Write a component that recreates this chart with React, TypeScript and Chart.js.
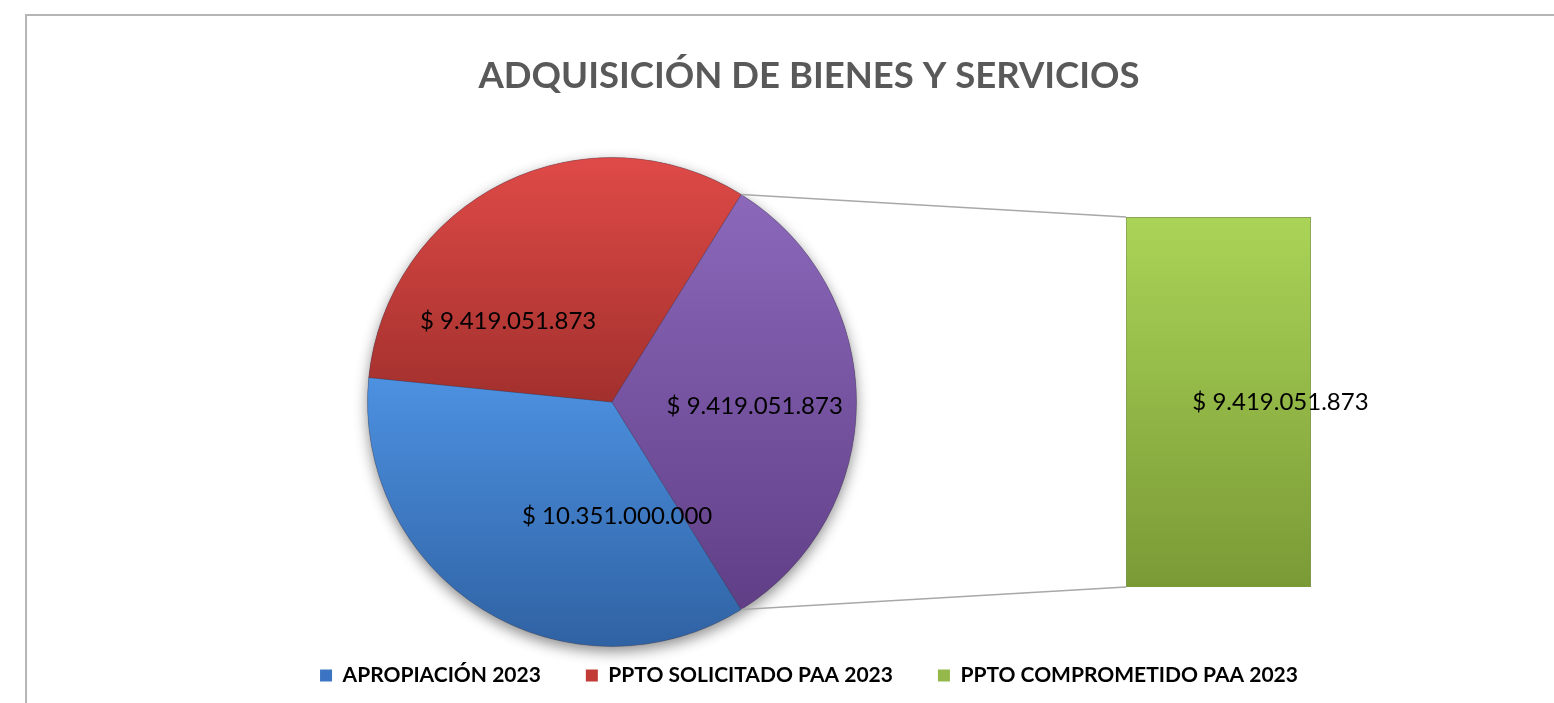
import React, { useEffect, useRef } from 'react';
import { Chart, registerables } from 'chart.js';

Chart.register(...registerables);

// ---------------- data ----------------
const TITLE = 'ADQUISICIÓN DE BIENES Y SERVICIOS';
const CATEGORIES = ['APROPIACIÓN 2023', 'PPTO SOLICITADO PAA 2023', 'PPTO COMPROMETIDO PAA 2023'];
const VALUES = [10351000000, 9419051873, 9419051873];
const SECOND_PLOT_COUNT = 1; // last N categories go to the bar (bar of pie)

const sum = (a: number[]) => a.reduce((s, v) => s + v, 0);
const PIE_LABELS = [...CATEGORIES.slice(0, CATEGORIES.length - SECOND_PLOT_COUNT), 'Otro'];
const PIE_VALUES = [...VALUES.slice(0, VALUES.length - SECOND_PLOT_COUNT), sum(VALUES.slice(-SECOND_PLOT_COUNT))];
const BAR_LABELS = CATEGORIES.slice(-SECOND_PLOT_COUNT);
const BAR_VALUES = VALUES.slice(-SECOND_PLOT_COUNT);

// ---------------- styles / layout ----------------
const W = 1554;
const H = 703;
const FONT = 'Lato, "Open Sans", "DejaVu Sans", sans-serif';
const PIE_CX = 612;
const PIE_TOP = 157;
const PIE_SIZE = 490;
const BAR_BOX = { left: 1126, right: 1311, top: 217, bottom: 587 };
const PIE_COLORS: [string, string][] = [
  ['#4d91e1', '#2f62a3'],
  ['#df4a47', '#a2302d'],
  ['#8b68ba', '#613f87'],
];
const BAR_COLORS: [string, string] = ['#aad457', '#7a9a36'];
const LEGEND_COLORS = ['#3b74c2', '#c23b37', '#94b94a'];
// label placement: shift (deg) from slice mid-angle and radius fraction
const PIE_LABEL_PLACE = [
  { shift: -34.5, r: 0.466 },
  { shift: -26, r: 0.538 },
  { shift: 1.6, r: 0.584 },
];
const BAR_LABEL_SHIFT = 62;

const TOTAL = sum(PIE_VALUES);
const OTHER_SPAN = (PIE_VALUES[PIE_VALUES.length - 1] / TOTAL) * 360;
const ROTATION = 90 + OTHER_SPAN / 2; // "other" slice faces the bar

const fmt = (v: number) => '$ ' + String(v).replace(/\B(?=(\d{3})+(?!\d))/g, '.');

function sliceGradient(c: any) {
  const chart = c.chart;
  const area = chart.chartArea;
  const i = c.dataIndex ?? 0;
  const [top, bot] = PIE_COLORS[i];
  if (!area) return top;
  const cx = (area.left + area.right) / 2;
  const cy = (area.top + area.bottom) / 2;
  const R = Math.min(area.right - area.left, area.bottom - area.top) / 2;
  let a0 = ((ROTATION - 90) * Math.PI) / 180;
  for (let j = 0; j < i; j++) a0 += (PIE_VALUES[j] / TOTAL) * 2 * Math.PI;
  const a1 = a0 + (PIE_VALUES[i] / TOTAL) * 2 * Math.PI;
  const ys = [cy, cy + R * Math.sin(a0), cy + R * Math.sin(a1)];
  for (let k = Math.ceil(a0 / (Math.PI / 2)); (k * Math.PI) / 2 < a1; k++) ys.push(cy + R * Math.sin((k * Math.PI) / 2));
  const y0 = Math.min(...ys);
  const y1 = Math.max(...ys);
  const g = chart.ctx.createLinearGradient(0, y0, 0, y1 + 0.01);
  g.addColorStop(0, top);
  g.addColorStop(1, bot);
  return g;
}

export default function App() {
  const frameRef = useRef<HTMLCanvasElement>(null);
  const pieRef = useRef<HTMLCanvasElement>(null);
  const barRef = useRef<HTMLCanvasElement>(null);

  useEffect(() => {
    if (!frameRef.current || !pieRef.current || !barRef.current) return;

    const barChart = new Chart(barRef.current, {
      type: 'bar',
      data: {
        labels: BAR_LABELS,
        datasets: [
          {
            data: BAR_VALUES,
            backgroundColor: (c: any) => {
              const area = c.chart.chartArea;
              if (!area) return BAR_COLORS[0];
              const g = c.chart.ctx.createLinearGradient(0, area.top, 0, area.bottom);
              g.addColorStop(0, BAR_COLORS[0]);
              g.addColorStop(1, BAR_COLORS[1]);
              return g;
            },
            borderColor: 'rgba(95,125,40,0.8)',
            borderWidth: 1,
            barPercentage: 1,
            categoryPercentage: 1,
          },
        ],
      },
      options: {
        responsive: false,
        animation: false,
        layout: {
          padding: { left: BAR_BOX.left, right: W - BAR_BOX.right, top: BAR_BOX.top, bottom: H - BAR_BOX.bottom },
        },
        scales: {
          x: { display: false, stacked: true },
          y: { display: false, stacked: true, min: 0, max: sum(BAR_VALUES) },
        },
        plugins: { legend: { display: false }, tooltip: { enabled: false }, title: { display: false } },
      },
      plugins: [
        {
          id: 'barLabel',
          afterDatasetsDraw(chart: any) {
            const ctx = chart.ctx;
            const meta = chart.getDatasetMeta(0);
            ctx.save();
            ctx.font = `24px ${FONT}`;
            ctx.fillStyle = '#000';
            ctx.textAlign = 'center';
            ctx.textBaseline = 'middle';
            meta.data.forEach((el: any, i: number) => {
              const p = el.getProps(['x', 'y', 'base'], true);
              ctx.fillText(fmt(BAR_VALUES[i]), p.x + BAR_LABEL_SHIFT, (p.y + p.base) / 2);
            });
            ctx.restore();
          },
        },
      ],
    } as any);

    const pieChart = new Chart(pieRef.current, {
      type: 'pie',
      data: {
        labels: PIE_LABELS,
        datasets: [
          {
            data: PIE_VALUES,
            backgroundColor: sliceGradient,
            borderColor: 'rgba(40,30,60,0.25)',
            borderWidth: 1,
          },
        ],
      },
      options: {
        responsive: false,
        animation: false,
        rotation: ROTATION,
        layout: {
          padding: { left: 0, right: W - 2 * PIE_CX, top: PIE_TOP, bottom: H - PIE_TOP - PIE_SIZE },
        },
        plugins: { legend: { display: false }, tooltip: { enabled: false }, title: { display: false } },
      },
      plugins: [
        {
          id: 'pieExtras',
          beforeDatasetsDraw(chart: any) {
            const el = chart.getDatasetMeta(0).data[0];
            if (!el) return;
            const ctx = chart.ctx;
            ctx.save();
            ctx.shadowColor = 'rgba(0,0,0,0.45)';
            ctx.shadowBlur = 14;
            ctx.shadowOffsetY = 5;
            ctx.beginPath();
            ctx.arc(el.x, el.y, el.outerRadius, 0, Math.PI * 2);
            ctx.fillStyle = '#777';
            ctx.fill();
            ctx.restore();
          },
          afterDatasetsDraw(chart: any) {
            const ctx = chart.ctx;
            const arcs = chart.getDatasetMeta(0).data;
            // connector lines from the "other" slice to the bar
            const other = arcs[arcs.length - 1];
            const bar = barChart.getDatasetMeta(0).data[0] as any;
            if (other && bar) {
              const bp = bar.getProps(['x', 'y', 'base', 'width'], true);
              const left = bp.x - bp.width / 2;
              ctx.save();
              ctx.strokeStyle = '#a8a8a8';
              ctx.lineWidth = 1.5;
              ctx.beginPath();
              ctx.moveTo(other.x + other.outerRadius * Math.cos(other.startAngle), other.y + other.outerRadius * Math.sin(other.startAngle));
              ctx.lineTo(left, bp.y);
              ctx.moveTo(other.x + other.outerRadius * Math.cos(other.endAngle), other.y + other.outerRadius * Math.sin(other.endAngle));
              ctx.lineTo(left, bp.base);
              ctx.stroke();
              ctx.restore();
            }
            // data labels
            ctx.save();
            ctx.font = `24px ${FONT}`;
            ctx.fillStyle = '#000';
            ctx.textAlign = 'center';
            ctx.textBaseline = 'middle';
            arcs.forEach((el: any, i: number) => {
              const place = PIE_LABEL_PLACE[i];
              const mid = (el.startAngle + el.endAngle) / 2 + (place.shift * Math.PI) / 180;
              const r = el.outerRadius * place.r;
              ctx.fillText(fmt(PIE_VALUES[i]), el.x + r * Math.cos(mid), el.y + r * Math.sin(mid));
            });
            ctx.restore();
          },
        },
      ],
    } as any);

    const frameChart = new Chart(frameRef.current, {
      type: 'bar',
      data: { labels: [], datasets: [] },
      options: {
        responsive: false,
        animation: false,
        layout: { padding: { left: 64, right: 0, top: 0, bottom: 7 } },
        scales: { x: { display: false }, y: { display: false } },
        plugins: {
          tooltip: { enabled: false },
          title: {
            display: true,
            text: TITLE,
            color: '#595959',
            font: { family: FONT, size: 36.5, weight: 'bold' },
            padding: { top: 54, bottom: 0 },
          },
          legend: {
            display: true,
            position: 'bottom',
            onClick: () => {},
            labels: {
              boxWidth: 12,
              boxHeight: 12,
              padding: 45,
              color: '#000',
              font: { family: FONT, size: 21, weight: 'bold' },
              generateLabels: () =>
                CATEGORIES.map((t, i) => ({
                  text: t,
                  fillStyle: LEGEND_COLORS[i],
                  strokeStyle: LEGEND_COLORS[i],
                  lineWidth: 0,
                  hidden: false,
                  index: i,
                  fontColor: '#000',
                })),
            },
          },
        },
      },
    } as any);

    return () => {
      frameChart.destroy();
      pieChart.destroy();
      barChart.destroy();
    };
  }, []);

  const abs: React.CSSProperties = { position: 'absolute', left: 0, top: 0, width: W, height: H };
  return (
    <div style={{ position: 'fixed', left: 0, top: 0, width: W, height: H, overflow: 'hidden', background: '#fff' }}>
      <div
        style={{
          position: 'absolute',
          left: 25,
          top: 14,
          width: W,
          height: H,
          borderLeft: '2px solid #b5b5b5',
          borderTop: '2px solid #b5b5b5',
          background: '#fff',
        }}
      />
      <canvas ref={frameRef} width={W} height={H} style={abs} />
      <canvas ref={pieRef} width={W} height={H} style={abs} />
      <canvas ref={barRef} width={W} height={H} style={abs} />
    </div>
  );
}
